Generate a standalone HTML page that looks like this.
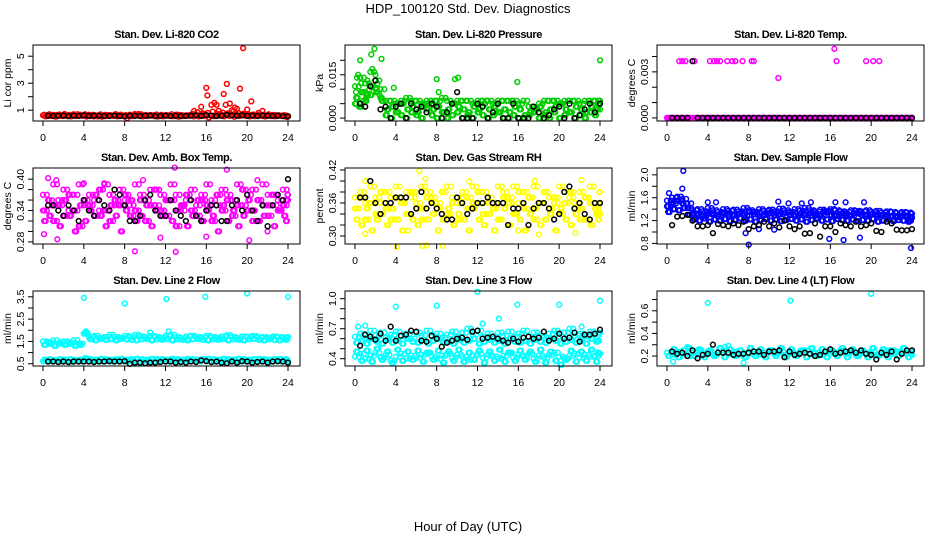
<!DOCTYPE html>
<html><head><meta charset="utf-8"><style>
html,body{margin:0;padding:0;background:#fff;}
svg{display:block;font-family:"Liberation Sans",sans-serif;}
</style></head><body>
<svg id="chart" width="936" height="540" viewBox="0 0 936 540" xmlns="http://www.w3.org/2000/svg">
<text x="468" y="13" text-anchor="middle" font-size="13">HDP_100120  Std. Dev. Diagnostics</text>
<text x="468" y="531" text-anchor="middle" font-size="13">Hour of Day (UTC)</text>
</svg>
<script>
const hoursA=[0,0.5,1,1.5,2,2.5,3,3.5,4,4.5,5,5.5,6,6.5,7,7.5,8,8.5,9,9.5,10,10.5,11,11.5,12,12.5,13,13.5,14,14.5,15,15.5,16,16.5,17,17.5,18,18.5,19,19.5,20,20.5,21,21.5,22,22.5,23,23.5,24];
const hoursB=[0.25,0.75,1.25,1.75,2.25,2.75,3.25,3.75,4.25,4.75,5.25,5.75,6.25,6.75,7.25,7.75,8.25,8.75,9.25,9.75,10.25,10.75,11.25,11.75,12.25,12.75,13.25,13.75,14.25,14.75,15.25,15.75,16.25,16.75,17.25,17.75,18.25,18.75,19.25,19.75,20.25,20.75,21.25,21.75,22.25,22.75,23.25,23.75,23.9];
const hoursC=[0.12,0.62,1.12,1.62,2.12,2.62,3.12,3.62,4.12,4.62,5.12,5.62,6.12,6.62,7.12,7.62,8.12,8.62,9.12,9.62,10.12,10.62,11.12,11.62,12.12,12.62,13.12,13.62,14.12,14.62,15.12,15.62,16.12,16.62,17.12,17.62,18.12,18.62,19.12,19.62,20.12,20.62,21.12,21.62,22.12,22.62,23.12,23.62,23.8];
const hoursD=[0.37,0.87,1.37,1.87,2.37,2.87,3.37,3.87,4.37,4.87,5.37,5.87,6.37,6.87,7.37,7.87,8.37,8.87,9.37,9.87,10.37,10.87,11.37,11.87,12.37,12.87,13.37,13.87,14.37,14.87,15.37,15.87,16.37,16.87,17.37,17.87,18.37,18.87,19.37,19.87,20.37,20.87,21.37,21.87,22.37,22.87,23.37,23.87,23.95];
const xTicks=[0,4,8,12,16,20,24];

// Panel 1 CO2
const co2A=[0.62,0.58,0.65,0.6,0.57,0.63,0.7,0.59,0.61,0.66,0.55,0.6,0.64,0.58,0.62,0.6,0.57,0.66,0.72,0.61,0.59,0.63,0.58,0.6,0.62,0.57,0.65,0.61,0.59,0.68,0.64,0.7,0.62,0.6,0.75,0.66,0.72,0.68,0.63,0.7,0.65,0.61,0.67,0.6,0.64,0.62,0.58,0.6,0.56];
const co2B=[0.55,0.6,0.52,0.58,0.62,0.54,0.57,0.6,0.53,0.56,0.59,0.52,0.57,0.61,0.55,0.58,0.4,0.56,0.6,0.54,0.57,0.59,0.53,0.55,0.58,0.56,0.52,0.57,0.6,0.55,0.54,0.58,0.45,0.56,0.6,0.55,0.58,0.52,0.57,0.6,0.54,0.56,0.59,0.53,0.57,0.55,0.58,0.54,0.5];
const co2C=[0.66,0.7,0.63,0.68,0.72,0.65,0.6,0.67,0.7,0.64,0.62,0.69,0.66,0.63,0.71,0.67,0.64,0.6,0.66,0.7,0.65,0.62,0.68,0.66,0.63,0.7,0.67,0.64,0.62,0.72,0.85,0.78,0.8,0.9,0.7,0.82,0.76,0.88,0.8,0.74,0.7,0.68,0.8,0.66,0.7,0.65,0.62,0.64,0.6];
const co2OutX=[14.8,15.5,16.0,16.1,16.5,16.8,17.0,17.2,17.7,17.9,18.0,18.3,18.5,18.8,19.0,19.3,19.6,20.0,20.4,21.5];
const co2OutY=[0.95,1.25,2.65,2.1,1.4,1.55,1.4,0.95,2.2,1.4,2.95,1.5,1.0,1.2,1.1,2.6,5.6,1.05,1.65,0.95];
const co2K=[0.58,0.6,0.57,0.59,0.61,0.56,0.6,0.58,0.62,0.57,0.59,0.6,0.56,0.58,0.61,0.57,0.55,0.6,0.58,0.57,0.59,0.61,0.56,0.58,0.6,0.57,0.59,0.56,0.58,0.6,0.62,0.58,0.64,0.6,0.57,0.59,0.65,0.61,0.6,0.63,0.58,0.6,0.57,0.61,0.59,0.57,0.6,0.56,0.55];

// Panel 2 Pressure
const prA=[0.011,0.014,0.012,0.016,0.013,0.010,0.006,0.006,0.005,0.006,0.007,0.006,0.006,0.005,0.006,0.006,0.006,0.007,0.006,0.005,0.006,0.006,0.006,0.005,0.006,0.006,0.006,0.005,0.006,0.006,0.006,0.006,0.005,0.006,0.004,0.003,0.005,0.006,0.006,0.006,0.005,0.006,0.006,0.006,0.005,0.006,0.006,0.006,0.006];
const prB=[0.007,0.009,0.008,0.011,0.009,0.006,0.003,0.004,0.002,0.005,0.003,0.004,0.002,0.004,0.005,0.003,0.004,0.002,0.003,0.005,0.004,0.003,0.002,0.004,0.003,0.005,0.003,0.004,0.002,0.003,0.002,0.004,0.003,0.001,0.002,0.003,0.004,0.002,0.003,0.004,0.005,0.003,0.002,0.004,0.003,0.002,0.004,0.003,0.005];
const prC=[0.005,0.004,0.006,0.008,0.010,0.007,0.001,0.0,0.002,0.001,0.0,0.002,0.001,0.0,0.003,0.001,0.0,0.002,0.0,0.001,0.002,0.0,0.001,0.0,0.002,0.001,0.0,0.001,0.002,0.0,0.0,0.001,0.0,0.0,0.001,0.002,0.0,0.001,0.0,0.002,0.0,0.001,0.002,0.0,0.001,0.0,0.002,0.001,0.003];
const prOutX=[0.1,0.2,0.3,0.4,0.5,0.6,0.8,0.9,1.1,1.2,1.4,1.6,1.7,1.9,2.0,2.2,2.4,2.6,3.8,8.0,8.2,9.8,10.1,15.9,24.0];
const prOutY=[0.009,0.014,0.015,0.004,0.020,0.012,0.006,0.009,0.007,0.013,0.010,0.022,0.017,0.024,0.015,0.012,0.008,0.0205,0.0105,0.0135,0.009,0.0135,0.014,0.0125,0.020];
const prK=[0.004,0.005,0.004,0.011,0.013,0.003,0.004,0.0,0.004,0.005,0.0,0.005,0.003,0.004,0.002,0.005,0.004,0.0,0.002,0.005,0.009,0.0,0.0,0.0,0.005,0.004,0.0,0.002,0.005,0.0,0.0,0.005,0.0,0.0,0.0,0.004,0.002,0.0,0.001,0.003,0.004,0.0,0.005,0.0,0.001,0.003,0.005,0.002,0.005];

// Panel 3 Temp
const tmA=[0,0,0,0,0,0,0,0,0,0,0,0,0,0,0,0,0,0,0,0,0,0,0,0,0,0,0,0,0,0,0,0,0,0,0,0,0,0,0,0,0,0,0,0,0,0,0,0,0];
const tmOutX=[1.2,1.5,1.8,2.7,4.2,4.6,4.9,5.2,5.9,6.4,6.7,7.4,8.3,8.5,10.9,16.4,16.6,19.5,20.2,20.8];
const tmOutY=[0.0037,0.0037,0.0037,0.0037,0.0037,0.0037,0.0037,0.0037,0.0037,0.0037,0.0037,0.0037,0.0037,0.0037,0.0026,0.0045,0.0037,0.0037,0.0037,0.0037];
const tmK=[0,0,0,0,0,0.0037,0,0,0,0,0,0,0,0,0,0,0,0,0,0,0,0,0,0,0,0,0,0,0,0,0,0,0,0,0,0,0,0,0,0,0,0,0,0,0,0,0,0,0];

// Panel 4 Amb box temp
const abA=[0.34,0.36,0.32,0.35,0.33,0.37,0.34,0.31,0.36,0.35,0.33,0.38,0.34,0.32,0.36,0.35,0.37,0.33,0.34,0.36,0.32,0.35,0.38,0.34,0.33,0.36,0.31,0.35,0.37,0.34,0.33,0.36,0.35,0.32,0.37,0.34,0.36,0.33,0.35,0.38,0.34,0.32,0.36,0.35,0.33,0.37,0.34,0.35,0.36];
const abB=[0.32,0.33,0.35,0.31,0.36,0.33,0.30,0.35,0.32,0.34,0.37,0.33,0.31,0.35,0.33,0.30,0.34,0.36,0.32,0.33,0.35,0.31,0.34,0.33,0.36,0.32,0.34,0.35,0.31,0.33,0.36,0.32,0.34,0.33,0.30,0.35,0.32,0.34,0.31,0.33,0.36,0.34,0.32,0.33,0.35,0.31,0.34,0.33,0.32];
const abC=[0.37,0.35,0.39,0.36,0.38,0.34,0.37,0.39,0.35,0.37,0.36,0.34,0.39,0.37,0.35,0.38,0.36,0.35,0.39,0.37,0.36,0.38,0.35,0.37,0.36,0.39,0.37,0.34,0.36,0.38,0.35,0.37,0.39,0.36,0.35,0.38,0.37,0.36,0.39,0.35,0.37,0.38,0.36,0.39,0.37,0.35,0.36,0.38,0.37];
const abOutX=[0.1,0.5,1.3,1.4,4.0,6.0,9.0,9.8,11.5,12.9,13.0,16.0,18.0,20.2,21.0,22.0];
const abOutY=[0.295,0.402,0.398,0.285,0.392,0.392,0.262,0.398,0.288,0.422,0.261,0.29,0.418,0.283,0.398,0.30];
const abK=[0.33,0.35,0.35,0.34,0.33,0.35,0.34,0.32,0.36,0.34,0.33,0.36,0.35,0.34,0.38,0.37,0.35,0.32,0.32,0.33,0.36,0.37,0.34,0.33,0.33,0.36,0.34,0.33,0.32,0.36,0.33,0.32,0.34,0.35,0.35,0.32,0.32,0.35,0.36,0.34,0.37,0.34,0.32,0.35,0.31,0.35,0.37,0.36,0.40];

// Panel 5 Gas stream RH
const rhA=[0.35,0.37,0.33,0.36,0.34,0.38,0.35,0.33,0.37,0.36,0.34,0.38,0.35,0.33,0.37,0.36,0.35,0.38,0.34,0.36,0.33,0.37,0.35,0.36,0.38,0.34,0.36,0.35,0.33,0.37,0.36,0.34,0.38,0.35,0.37,0.33,0.36,0.38,0.35,0.37,0.34,0.36,0.38,0.35,0.33,0.37,0.36,0.35,0.34];
const rhB=[0.33,0.32,0.35,0.31,0.33,0.34,0.32,0.35,0.33,0.31,0.34,0.33,0.32,0.35,0.33,0.34,0.31,0.33,0.35,0.32,0.34,0.33,0.31,0.35,0.33,0.32,0.34,0.31,0.33,0.35,0.32,0.34,0.33,0.31,0.34,0.35,0.32,0.33,0.34,0.31,0.35,0.33,0.32,0.34,0.35,0.33,0.32,0.34,0.33];
const rhC=[0.37,0.38,0.36,0.39,0.37,0.36,0.38,0.37,0.39,0.36,0.38,0.37,0.36,0.39,0.38,0.37,0.36,0.38,0.39,0.37,0.36,0.38,0.37,0.39,0.36,0.38,0.37,0.36,0.39,0.38,0.37,0.39,0.36,0.38,0.37,0.39,0.36,0.38,0.37,0.36,0.39,0.38,0.37,0.36,0.38,0.37,0.39,0.36,0.38];
const rhOutX=[1.0,1.0,4.1,5.2,6.3,6.6,6.9,7.0,8.6,11.2,16.0,17.6,18.0,21.6,22.2];
const rhOutY=[0.304,0.40,0.28,0.31,0.418,0.282,0.404,0.283,0.282,0.399,0.31,0.40,0.303,0.306,0.402];
const rhK=[0.34,0.37,0.37,0.40,0.36,0.34,0.36,0.36,0.37,0.37,0.37,0.34,0.35,0.38,0.35,0.36,0.35,0.34,0.33,0.33,0.37,0.36,0.34,0.35,0.36,0.36,0.37,0.36,0.36,0.36,0.32,0.35,0.35,0.36,0.32,0.35,0.36,0.36,0.35,0.33,0.34,0.38,0.39,0.35,0.36,0.34,0.33,0.36,0.36];

// Panel 6 Sample flow
const sfA=[1.45,1.5,1.55,1.5,1.42,1.32,1.3,1.28,1.32,1.3,1.27,1.33,1.3,1.29,1.32,1.3,1.35,1.31,1.28,1.3,1.33,1.29,1.31,1.34,1.3,1.28,1.32,1.3,1.33,1.29,1.31,1.35,1.3,1.28,1.32,1.3,1.29,1.33,1.3,1.28,1.31,1.29,1.3,1.27,1.28,1.26,1.29,1.27,1.25];
const sfB=[1.35,1.4,1.38,1.42,1.3,1.22,1.2,1.24,1.18,1.22,1.2,1.23,1.19,1.21,1.24,1.2,1.22,1.18,1.21,1.23,1.2,1.22,1.19,1.21,1.23,1.2,1.22,1.18,1.21,1.24,1.2,1.22,1.19,1.23,1.21,1.2,1.22,1.19,1.21,1.2,1.23,1.18,1.2,1.22,1.19,1.21,1.2,1.18,1.2];
const sfC=[1.55,1.6,1.62,1.58,1.5,1.38,1.4,1.36,1.42,1.38,1.35,1.4,1.37,1.39,1.36,1.42,1.38,1.35,1.4,1.37,1.39,1.36,1.41,1.38,1.35,1.4,1.37,1.42,1.38,1.36,1.39,1.37,1.4,1.38,1.36,1.35,1.38,1.37,1.36,1.38,1.35,1.37,1.34,1.36,1.35,1.33,1.35,1.34,1.32];
const sfOutX=[0.2,1.5,1.6,4.0,4.8,7.7,8.0,9.0,10.5,10.9,11.9,13.2,14.1,15.9,16.5,17.3,17.5,18.9,19.3,23.9];
const sfOutY=[1.68,1.76,2.07,1.52,1.52,0.98,0.78,1.05,1.04,1.53,1.5,1.5,1.52,0.88,1.52,0.86,1.52,0.9,1.52,0.72];
const sfK=[1.15,1.12,1.27,1.28,1.3,1.2,1.1,1.1,1.12,0.98,1.14,1.12,1.1,1.15,1.12,1.18,1.05,1.1,1.12,1.18,1.1,1.15,1.08,1.2,1.1,1.05,1.1,0.97,0.98,1.15,0.92,1.1,1.1,1.0,1.15,1.12,1.1,1.18,1.1,1.12,1.15,1.02,1.0,1.18,1.15,1.04,1.03,1.03,1.05];

// Panel 7 Line 2 flow
const l2A=[1.5,1.45,1.55,1.4,1.5,1.45,1.55,1.4,1.85,1.7,1.75,1.65,1.7,1.8,1.7,1.65,1.75,1.7,1.8,1.72,1.68,1.75,1.7,1.65,1.75,1.8,1.7,1.65,1.72,1.75,1.7,1.68,1.75,1.7,1.65,1.72,1.78,1.7,1.65,1.72,1.7,1.75,1.68,1.7,1.65,1.72,1.7,1.68,1.7];
const l2B=[1.35,1.4,1.3,1.45,1.35,1.4,1.3,1.35,1.9,1.6,1.55,1.62,1.58,1.6,1.55,1.62,1.6,1.58,1.55,1.6,1.62,1.55,1.6,1.58,1.62,1.55,1.6,1.58,1.55,1.6,1.62,1.58,1.55,1.6,1.58,1.62,1.55,1.6,1.58,1.55,1.6,1.62,1.58,1.55,1.6,1.58,1.55,1.6,1.58];
const l2C=[0.62,0.6,0.65,0.6,0.62,0.58,0.63,0.6,0.7,0.62,0.65,0.6,0.63,0.6,0.65,0.62,0.6,0.63,0.6,0.62,0.65,0.6,0.62,0.63,0.6,0.65,0.62,0.6,0.63,0.62,0.6,0.65,0.62,0.6,0.63,0.6,0.62,0.65,0.6,0.62,0.63,0.6,0.62,0.65,0.6,0.62,0.6,0.63,0.6];
const l2D=[0.68,0.7,0.66,0.7,0.68,0.7,0.66,0.68,0.75,0.7,0.68,0.72,0.7,0.68,0.7,0.72,0.68,0.7,0.72,0.7,0.68,0.72,0.7,0.7,0.68,0.72,0.7,0.68,0.72,0.7,0.68,0.7,0.72,0.7,0.68,0.72,0.7,0.68,0.72,0.7,0.68,0.7,0.72,0.7,0.68,0.7,0.72,0.68,0.7];
const l2OutX=[4.0,4.2,8.0,10.5,12.1,12.3,15.9,20.0,24.0];
const l2OutY=[3.45,1.95,3.2,1.9,3.4,1.95,3.5,3.65,3.5];
const l2K=[0.62,0.6,0.6,0.58,0.6,0.58,0.6,0.6,0.6,0.6,0.58,0.6,0.6,0.62,0.6,0.6,0.62,0.5,0.55,0.55,0.52,0.55,0.55,0.58,0.6,0.6,0.55,0.58,0.55,0.6,0.58,0.65,0.62,0.58,0.6,0.55,0.52,0.6,0.55,0.62,0.6,0.55,0.58,0.6,0.55,0.6,0.62,0.6,0.55];

// Panel 8 Line 3 flow
const l3A=[0.62,0.65,0.6,0.68,0.63,0.66,0.61,0.64,0.67,0.62,0.65,0.6,0.66,0.63,0.68,0.62,0.65,0.61,0.64,0.67,0.62,0.66,0.7,0.64,0.68,0.62,0.65,0.6,0.66,0.63,0.67,0.62,0.65,0.68,0.62,0.66,0.63,0.61,0.65,0.68,0.62,0.66,0.7,0.63,0.65,0.62,0.67,0.64,0.66];
const l3B=[0.56,0.58,0.55,0.6,0.57,0.55,0.59,0.56,0.58,0.55,0.6,0.57,0.56,0.59,0.55,0.58,0.6,0.56,0.57,0.55,0.59,0.56,0.58,0.6,0.55,0.57,0.59,0.56,0.58,0.55,0.6,0.57,0.56,0.58,0.55,0.59,0.57,0.56,0.6,0.58,0.55,0.57,0.59,0.56,0.58,0.55,0.6,0.57,0.58];
const l3C=[0.42,0.45,0.4,0.43,0.46,0.41,0.44,0.38,0.42,0.45,0.4,0.43,0.41,0.44,0.46,0.42,0.4,0.43,0.45,0.41,0.44,0.42,0.39,0.43,0.45,0.41,0.44,0.42,0.4,0.43,0.46,0.41,0.44,0.42,0.45,0.4,0.43,0.41,0.44,0.46,0.42,0.4,0.43,0.45,0.41,0.44,0.42,0.43,0.45];
const l3D=[0.47,0.38,0.48,0.37,0.5,0.39,0.47,0.36,0.49,0.38,0.47,0.39,0.48,0.37,0.46,0.39,0.48,0.36,0.47,0.38,0.49,0.37,0.46,0.39,0.48,0.36,0.47,0.38,0.49,0.37,0.46,0.38,0.48,0.39,0.47,0.37,0.49,0.36,0.47,0.38,0.34,0.39,0.48,0.37,0.47,0.38,0.49,0.37,0.46];
const l3OutX=[0.3,1.0,4.0,8.0,12.0,12.5,14.1,15.9,20.0,22.2,24.0];
const l3OutY=[0.72,0.73,0.92,0.93,1.07,0.75,0.8,0.94,0.94,0.72,0.98];
const l3K=[0.55,0.53,0.64,0.62,0.59,0.65,0.58,0.72,0.58,0.63,0.64,0.68,0.67,0.58,0.57,0.63,0.6,0.52,0.56,0.58,0.6,0.61,0.59,0.67,0.68,0.6,0.61,0.62,0.6,0.58,0.56,0.6,0.57,0.61,0.62,0.6,0.61,0.67,0.58,0.6,0.65,0.6,0.61,0.66,0.57,0.64,0.64,0.65,0.69];

// Panel 9 Line 4 flow
const l4A=[0.23,0.21,0.24,0.22,0.2,0.23,0.25,0.22,0.24,0.21,0.23,0.25,0.22,0.24,0.21,0.23,0.22,0.24,0.21,0.23,0.25,0.22,0.24,0.21,0.23,0.22,0.24,0.25,0.22,0.23,0.21,0.24,0.22,0.23,0.25,0.22,0.24,0.21,0.23,0.22,0.24,0.21,0.23,0.25,0.22,0.24,0.23,0.22,0.21];
const l4B=[0.2,0.26,0.19,0.25,0.27,0.2,0.26,0.19,0.25,0.2,0.27,0.19,0.26,0.2,0.25,0.19,0.27,0.2,0.26,0.19,0.25,0.2,0.27,0.19,0.26,0.2,0.25,0.19,0.27,0.2,0.26,0.19,0.25,0.2,0.27,0.19,0.26,0.2,0.25,0.19,0.27,0.2,0.26,0.19,0.25,0.2,0.27,0.19,0.24];
const l4OutX=[0.6,2.0,4.0,5.7,6.0,7.5,12.1,20.0];
const l4OutY=[0.15,0.28,0.67,0.28,0.29,0.14,0.69,0.75];
const l4K=[0.22,0.24,0.22,0.23,0.2,0.25,0.18,0.21,0.22,0.3,0.23,0.23,0.23,0.21,0.22,0.22,0.23,0.24,0.24,0.21,0.24,0.24,0.25,0.19,0.24,0.21,0.22,0.23,0.22,0.2,0.21,0.24,0.26,0.22,0.23,0.24,0.25,0.23,0.25,0.22,0.21,0.17,0.23,0.21,0.24,0.17,0.22,0.25,0.25];

// Y axis ticks/labels
const ticks1=[1,2,3,4,5], labels1=["1","","3","","5"];
const ticks2=[0,0.005,0.010,0.015,0.020], labels2=["0.000","","","0.015",""];
const ticks3=[0,0.001,0.002,0.003,0.004], labels3=["0.000","","","0.003",""];
const ticks4=[0.28,0.30,0.32,0.34,0.36,0.38,0.40], labels4=["0.28","","","0.34","","","0.40"];
const ticks5=[0.30,0.32,0.34,0.36,0.38,0.40,0.42], labels5=["0.30","","","0.36","","","0.42"];
const ticks6=[0.8,1.0,1.2,1.4,1.6,1.8,2.0], labels6=["0.8","","1.2","","1.6","","2.0"];
const ticks7=[0.5,1.0,1.5,2.0,2.5,3.0,3.5], labels7=["0.5","","1.5","","2.5","","3.5"];
const ticks8=[0.4,0.5,0.6,0.7,0.8,0.9,1.0], labels8=["0.4","","","0.7","","","1.0"];
const ticks9=[0.2,0.3,0.4,0.5,0.6,0.7], labels9=["0.2","","0.4","","0.6",""];

const svg=document.getElementById('chart');
const NS='http://www.w3.org/2000/svg';
function mk(tag,attrs,parent){const e=document.createElementNS(NS,tag);for(const k in attrs)e.setAttribute(k,attrs[k]);(parent||svg).appendChild(e);return e;}

const panels=[
 {id:'co2',col:0,row:0,title:'Stan. Dev. Li-820 CO2',ylab:'Li cor ppm',ymin:0.2,ymax:5.83,col1:'#ff0000',series:[[hoursA,co2A],[hoursB,co2B],[hoursC,co2C],[hoursD,co2A],[co2OutX,co2OutY]],black:co2K,ticks:ticks1,labels:labels1},
 {id:'pressure',col:1,row:0,title:'Stan. Dev. Li-820 Pressure',ylab:'kPa',ymin:-0.001,ymax:0.0253,col1:'#00cd00',series:[[hoursA,prA],[hoursB,prB],[hoursA,prC],[hoursC,prB],[hoursD,prA],[hoursC,prC],[prOutX,prOutY]],black:prK,ticks:ticks2,labels:labels2},
 {id:'temp',col:2,row:0,title:'Stan. Dev. Li-820 Temp.',ylab:'degrees C',ymin:-0.0002,ymax:0.00475,col1:'#ff00ff',series:[[hoursA,tmA],[hoursB,tmA],[hoursC,tmA],[hoursD,tmA],[tmOutX,tmOutY]],black:tmK,ticks:ticks3,labels:labels3},
 {id:'ambbox',col:0,row:1,title:'Stan. Dev. Amb. Box Temp.',ylab:'degrees C',ymin:0.276,ymax:0.4213,col1:'#ff00ff',series:[[hoursA,abA],[hoursB,abB],[hoursA,abC],[hoursC,abB],[hoursD,abC],[hoursC,abA],[hoursD,abA],[abOutX,abOutY]],black:abK,ticks:ticks4,labels:labels4},
 {id:'rh',col:1,row:1,title:'Stan. Dev. Gas Stream RH',ylab:'percent',ymin:0.2855,ymax:0.4236,col1:'#ffff00',series:[[hoursA,rhA],[hoursB,rhB],[hoursA,rhC],[hoursC,rhB],[hoursD,rhC],[hoursC,rhA],[hoursD,rhA],[rhOutX,rhOutY]],black:rhK,ticks:ticks5,labels:labels5},
 {id:'sampleflow',col:2,row:1,title:'Stan. Dev. Sample Flow',ylab:'ml/min',ymin:0.79,ymax:2.12,col1:'#0000ff',series:[[hoursA,sfA],[hoursB,sfB],[hoursA,sfC],[hoursC,sfB],[hoursD,sfC],[hoursC,sfA],[hoursD,sfA],[sfOutX,sfOutY]],black:sfK,ticks:ticks6,labels:labels6},
 {id:'line2',col:0,row:2,title:'Stan. Dev. Line 2 Flow',ylab:'ml/min',ymin:0.40,ymax:3.76,col1:'#00ffff',series:[[hoursA,l2A],[hoursB,l2B],[hoursA,l2C],[hoursB,l2D],[hoursC,l2B],[hoursD,l2A],[hoursC,l2D],[hoursD,l2C],[l2OutX,l2OutY]],black:l2K,ticks:ticks7,labels:labels7},
 {id:'line3',col:1,row:2,title:'Stan. Dev. Line 3 Flow',ylab:'ml/min',ymin:0.327,ymax:1.077,col1:'#00ffff',series:[[hoursA,l3A],[hoursB,l3B],[hoursA,l3C],[hoursB,l3D],[hoursC,l3B],[hoursD,l3A],[hoursC,l3D],[hoursD,l3C],[l3OutX,l3OutY]],black:l3K,ticks:ticks8,labels:labels8},
 {id:'line4',col:2,row:2,title:'Stan. Dev. Line 4 (LT) Flow',ylab:'ml/min',ymin:0.112,ymax:0.775,col1:'#00ffff',series:[[hoursA,l4A],[hoursB,l4B],[hoursC,l4B],[hoursD,l4A],[l4OutX,l4OutY]],black:l4K,ticks:ticks9,labels:labels9}
];

panels.forEach(p=>{
  const ox=p.col*312, top=[45,168,291][p.row], bot=[121,244,366][p.row];
  const L=ox+33, R=ox+300;
  const xs=h=>ox+43+h*(245/24);
  const ys=v=>bot-(v-p.ymin)/(p.ymax-p.ymin)*(bot-top);
  const g=mk('g',{});
  
  
  const t=mk('text',{x:(L+R)/2,y:top-7,'text-anchor':'middle','font-size':'11','font-weight':'bold','letter-spacing':'-0.4'},g);
  
  
  t.textContent=p.title;
  const yl=mk('text',{x:0,y:0,'text-anchor':'middle','font-size':'10.5',transform:`translate(${ox+11},${(top+bot)/2}) rotate(-90)`},g);
  
  
  yl.textContent=p.ylab;
  const pts=mk('g',{fill:'none',stroke:p.col1,'stroke-width':'1.5'},g);
  
  
  p.series.forEach(s=>{
    const n=Math.min(s[0].length,s[1].length);
    for(let i=0;i<n;i++){
      const c=mk('circle',{cx:xs(s[0][i]).toFixed(1),cy:ys(s[1][i]).toFixed(1),r:'2.4'},pts);
      
      
    }
  });
  const bk=mk('g',{fill:'none',stroke:'#000','stroke-width':'1.5'},g);
  
  
  const nk=Math.min(hoursA.length,p.black.length);
  for(let i=1;i<nk;i++){
    const c=mk('circle',{cx:xs(hoursA[i]).toFixed(1),cy:ys(p.black[i]).toFixed(1),r:'2.4'},bk);
    
    
  }
  const fr=mk('rect',{x:L,y:top,width:R-L,height:bot-top,fill:'none',stroke:'#000','stroke-width':'1'},g);
  
  
  const xa=mk('g',{},g);
  
  
  mk('line',{x1:xs(0),x2:xs(24),y1:bot,y2:bot,stroke:'#000'},xa);
  xTicks.forEach(h=>{
    mk('line',{x1:xs(h),x2:xs(h),y1:bot,y2:bot+5,stroke:'#000'},xa);
    const tl=mk('text',{x:xs(h),y:bot+20,'text-anchor':'middle','font-size':'10.5'},xa);
    
    
    tl.textContent=String(h);
  });
  const ya=mk('g',{},g);
  
  
  mk('line',{x1:L,x2:L,y1:ys(p.ticks[0]),y2:ys(p.ticks[p.ticks.length-1]),stroke:'#000'},ya);
  p.ticks.forEach((v,i)=>{
    const y=ys(v);
    mk('line',{x1:L-5,x2:L,y1:y,y2:y,stroke:'#000'},ya);
    if(p.labels[i]){
      const tl=mk('text',{x:0,y:0,'text-anchor':'middle','font-size':'10.5',transform:`translate(${L-9},${y}) rotate(-90)`},ya);
      
      
      tl.textContent=p.labels[i];
    }
  });
});
</script>
</body></html>
